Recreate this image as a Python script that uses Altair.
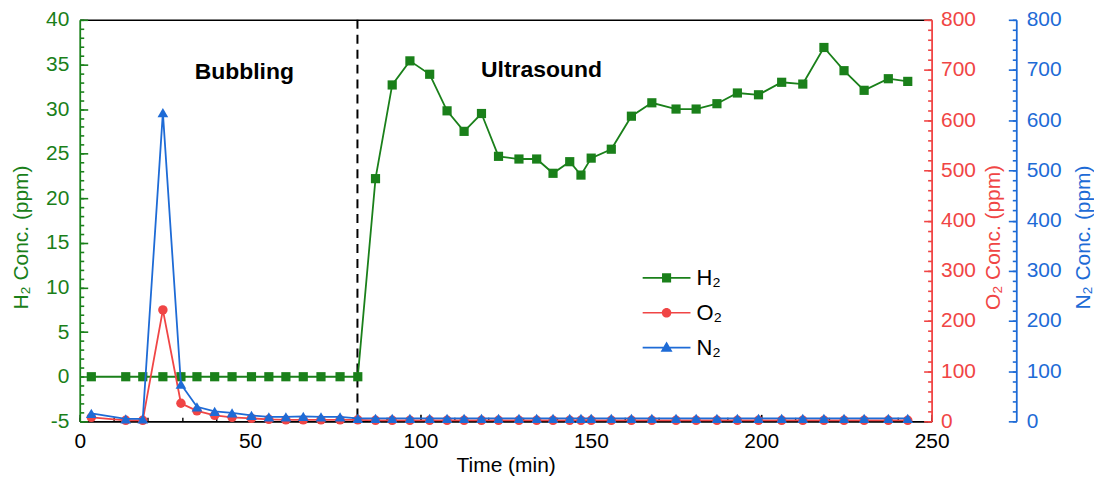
import altair as alt
import pandas as pd

# ---------------- data ----------------
time_min = [3.4, 13.5, 18.5, 24.4, 29.7, 34.4, 39.6, 44.7, 50.4, 55.5, 60.5, 65.6, 70.8, 76.4, 81.6,
            86.8, 91.7, 96.9, 102.7, 107.8, 112.8, 117.9, 122.9, 128.9, 134.1, 138.9, 143.8, 147.1, 150.1,
            156.0, 161.9, 167.9, 175.0, 180.9, 187.0, 193.0, 199.2, 206.0, 212.2, 218.4, 224.3, 230.2,
            237.3, 243.0]
h2_ppm = [0, 0, 0, 0, 0, 0, 0, 0, 0, 0, 0, 0, 0, 0, 0,
          22.2, 32.7, 35.4, 33.9, 29.8, 27.5, 29.5, 24.7, 24.4, 24.4, 22.8, 24.1, 22.6, 24.5,
          25.5, 29.2, 30.7, 30.0, 30.0, 30.6, 31.8, 31.6, 33.0, 32.8, 36.9, 34.3, 32.1, 33.4, 33.1]
o2_ppm = [8, 2, 2, 222, 36, 21, 12, 8, 6, 4, 3, 3, 3, 3, 3,
          2, 2, 2, 2, 2, 2, 2, 2, 2, 2, 2, 2, 2, 2,
          2, 2, 2, 2, 2, 2, 2, 2, 2, 2, 2, 2, 2, 2, 2]
n2_ppm = [16, 5, 5, 615, 74, 29, 20, 17, 12, 9, 9, 10, 9, 9, 6,
          6, 6, 6, 6, 6, 6, 6, 6, 6, 6, 6, 6, 6, 6,
          6, 6, 6, 6, 6, 6, 6, 6, 6, 6, 6, 6, 6, 6, 6]

series_names = ["H₂", "O₂", "N₂"]
series_colors = ["#1a801a", "#f04545", "#1e6bd6"]

x_major = [0, 50, 100, 150, 200, 250]
x_minor = list(range(0, 251, 10))
h2_major = list(range(-5, 41, 5))
h2_minor = list(range(-5, 41, 1))
ppm_major = list(range(0, 801, 100))
ppm_minor = list(range(0, 801, 20))

ann_labels = ["Bubbling", "Ultrasound"]
ann_x = [48.3, 135.5]
ann_y = [34.1, 34.4]
divider_x = [81.5]

# ---------------- layout constants ----------------
W, H = 855, 403
FONT = "Liberation Sans"
GREEN, RED, BLUE = series_colors
BLUE_OFFSET = 85
TICK_FS = 21
TITLE_FS = 21

df = pd.DataFrame({"t": time_min, "h2": h2_ppm, "o2": o2_ppm, "n2": n2_ppm})
xs = alt.Scale(domain=[0, 250], nice=False, zero=False)


def h2_scale():
    return alt.Scale(domain=[-5, 40], nice=False, zero=False)


def ppm_scale():
    return alt.Scale(domain=[0, 800], nice=False, zero=False)


def x_axis_layer(vals, **kw):
    d = pd.DataFrame({"v": vals})
    return alt.Chart(d).mark_point(opacity=0).encode(
        x=alt.X("v:Q", scale=xs, title=None,
                axis=alt.Axis(grid=False, values=vals, labelFlush=False, **kw)))


def y_axis_layer(vals, scale, **kw):
    d = pd.DataFrame({"v": vals})
    return alt.Chart(d).mark_point(opacity=0).encode(
        y=alt.Y("v:Q", scale=scale, title=None, axis=alt.Axis(grid=False, values=vals, **kw)))


def tick_axis(vals, scale, orient, offset, size, color):
    return y_axis_layer(vals, scale, orient=orient, offset=offset,
                        labels=False, domain=False, ticks=True, tickSize=size,
                        tickColor=color, tickWidth=1.6)


# ---- x axes ----
x_labels = alt.Chart(pd.DataFrame({"v": x_major})).mark_point(opacity=0).encode(
    x=alt.X("v:Q", scale=xs, title="Time (min)",
            axis=alt.Axis(orient="bottom", values=x_major, grid=False, ticks=False, tickSize=0,
                          domain=True, domainColor="black", domainWidth=1.6,
                          labelFontSize=TICK_FS, labelColor="black", labelPadding=9,
                          labelFlush=False, labelExpr="'' + datum.value",
                          titleFontSize=TITLE_FS, titleFontWeight="normal", titleColor="black",
                          titlePadding=3)))
x_major_ticks = x_axis_layer(x_major, orient="top", offset=-H, labels=False,
                             domain=False, ticks=True, tickSize=7, tickColor="black", tickWidth=1.6)
x_minor_ticks = x_axis_layer(x_minor, orient="top", offset=-H, labels=False,
                             domain=False, ticks=True, tickSize=4, tickColor="black", tickWidth=1.4)
x_top = x_axis_layer(x_major, orient="top", labels=False, ticks=False, tickSize=0,
                     domain=True, domainColor="black", domainWidth=1.6)

# ---- left (H2) axes ----
h2_labels = alt.Chart(pd.DataFrame({"v": h2_major})).mark_point(opacity=0).encode(
    y=alt.Y("v:Q", scale=h2_scale(), title="H₂ Conc. (ppm)",
            axis=alt.Axis(orient="left", values=h2_major, grid=False, ticks=False, tickSize=0,
                          domain=True, domainColor=GREEN, domainWidth=1.8,
                          labelFontSize=TICK_FS, labelColor=GREEN, labelPadding=11,
                          labelExpr="'' + datum.value",
                          titleFontSize=TITLE_FS, titleFontWeight="normal", titleColor=GREEN,
                          titleAngle=270, titleAlign="center", titleBaseline="middle",
                          titleX=-58, titleY=218)))
h2_major_ticks = tick_axis(h2_major, h2_scale(), "right", -W, 8, GREEN)
h2_minor_ticks = tick_axis(h2_minor, h2_scale(), "right", -W, 4, GREEN)

# ---- right (O2) axes ----
o2_labels = alt.Chart(pd.DataFrame({"v": ppm_major})).mark_point(opacity=0).encode(
    y=alt.Y("v:Q", scale=ppm_scale(), title="O₂ Conc. (ppm)",
            axis=alt.Axis(orient="right", values=ppm_major, grid=False, ticks=False, tickSize=0,
                          domain=True, domainColor=RED, domainWidth=1.8,
                          labelFontSize=TICK_FS, labelColor=RED, labelPadding=9,
                          titleFontSize=TITLE_FS, titleFontWeight="normal", titleColor=RED,
                          titleAngle=270, titleAlign="center", titleBaseline="middle",
                          titleX=62, titleY=218)))
o2_major_ticks = tick_axis(ppm_major, ppm_scale(), "left", -W, 8, RED)
o2_minor_ticks = tick_axis(ppm_minor, ppm_scale(), "left", -W, 4, RED)

# ---- far right (N2) axes ----
n2_labels = alt.Chart(pd.DataFrame({"v": ppm_major})).mark_point(opacity=0).encode(
    y=alt.Y("v:Q", scale=ppm_scale(), title="N₂ Conc. (ppm)",
            axis=alt.Axis(orient="right", offset=BLUE_OFFSET, values=ppm_major, grid=False,
                          ticks=False, tickSize=0,
                          domain=True, domainColor=BLUE, domainWidth=1.8,
                          labelFontSize=TICK_FS, labelColor=BLUE, labelPadding=10,
                          titleFontSize=TITLE_FS, titleFontWeight="normal", titleColor=BLUE,
                          titleAngle=270, titleAlign="center", titleBaseline="middle",
                          titleX=67, titleY=218)))
n2_major_ticks = tick_axis(ppm_major, ppm_scale(), "left", -(W + BLUE_OFFSET), 8, BLUE)
n2_minor_ticks = tick_axis(ppm_minor, ppm_scale(), "left", -(W + BLUE_OFFSET), 4, BLUE)

# ---- data series ----
base = alt.Chart(df).encode(x=alt.X("t:Q", scale=xs, axis=None))

h2_layer = base.mark_line(color=GREEN, strokeWidth=1.8, point=alt.OverlayMarkDef(
    shape="square", filled=True, size=85, color=GREEN, opacity=1)).encode(
    y=alt.Y("h2:Q", scale=h2_scale(), axis=None))
o2_layer = base.mark_line(color=RED, strokeWidth=1.8, point=alt.OverlayMarkDef(
    shape="circle", filled=True, size=90, color=RED, opacity=1)).encode(
    y=alt.Y("o2:Q", scale=ppm_scale(), axis=None))
n2_layer = base.mark_line(color=BLUE, strokeWidth=1.8, point=alt.OverlayMarkDef(
    shape="triangle-up", filled=True, size=115, color=BLUE, opacity=1)).encode(
    y=alt.Y("n2:Q", scale=ppm_scale(), axis=None))

divider = alt.Chart(pd.DataFrame({"x": divider_x})).mark_rule(
    color="black", strokeDash=[9, 6], strokeWidth=2).encode(
    x=alt.X("x:Q", scale=xs, axis=None))

annotations = alt.Chart(pd.DataFrame({"label": ann_labels, "x": ann_x, "y": ann_y})).mark_text(
    font=FONT, fontSize=23, fontWeight="bold", color="black", baseline="middle", align="center"
).encode(
    x=alt.X("x:Q", scale=xs, axis=None),
    y=alt.Y("y:Q", scale=h2_scale(), axis=None),
    text="label:N")

# ---- legend (line + marker symbols) ----
legend_paths = [
    "M-1,-0.035H1V0.035H-1Z M-0.19,-0.19H0.19V0.19H-0.19Z",
    "M-1,-0.035H1V0.035H-1Z M0.2,0 A0.2,0.2 0 1,1 -0.2,0 A0.2,0.2 0 1,1 0.2,0Z",
    "M-1,-0.035H1V0.035H-1Z M0,-0.26L0.25,0.17H-0.25Z",
]
legend_kw = dict(orient="none", legendX=565, legendY=235, title=None,
                 labelFontSize=22, labelFont=FONT, labelColor="black", labelOffset=6,
                 symbolSize=2304, symbolStrokeWidth=0, symbolOpacity=1, rowPadding=-8)
legend_layer = alt.Chart(pd.DataFrame({"series": series_names})).mark_point(
    filled=True, opacity=0).encode(
    color=alt.Color("series:N", scale=alt.Scale(domain=series_names, range=series_colors),
                    legend=alt.Legend(**legend_kw)),
    shape=alt.Shape("series:N", scale=alt.Scale(domain=series_names, range=legend_paths),
                    legend=alt.Legend(**legend_kw)))

chart = alt.layer(
    x_labels, x_major_ticks, x_minor_ticks, x_top,
    h2_labels, h2_major_ticks, h2_minor_ticks,
    o2_labels, o2_major_ticks, o2_minor_ticks,
    n2_labels, n2_major_ticks, n2_minor_ticks,
    divider, h2_layer, o2_layer, n2_layer, annotations, legend_layer,
).resolve_scale(y="independent").resolve_axis(x="independent", y="independent").properties(
    width=W, height=H,
    autosize=alt.AutoSizeParams(type="none"),
    padding={"left": 72, "top": 11, "right": 163, "bottom": 56},
).configure_view(stroke="transparent").configure_axis(
    labelFont=FONT, titleFont=FONT)

chart.save("out.html", embed_options={"renderer": "svg", "actions": False})
